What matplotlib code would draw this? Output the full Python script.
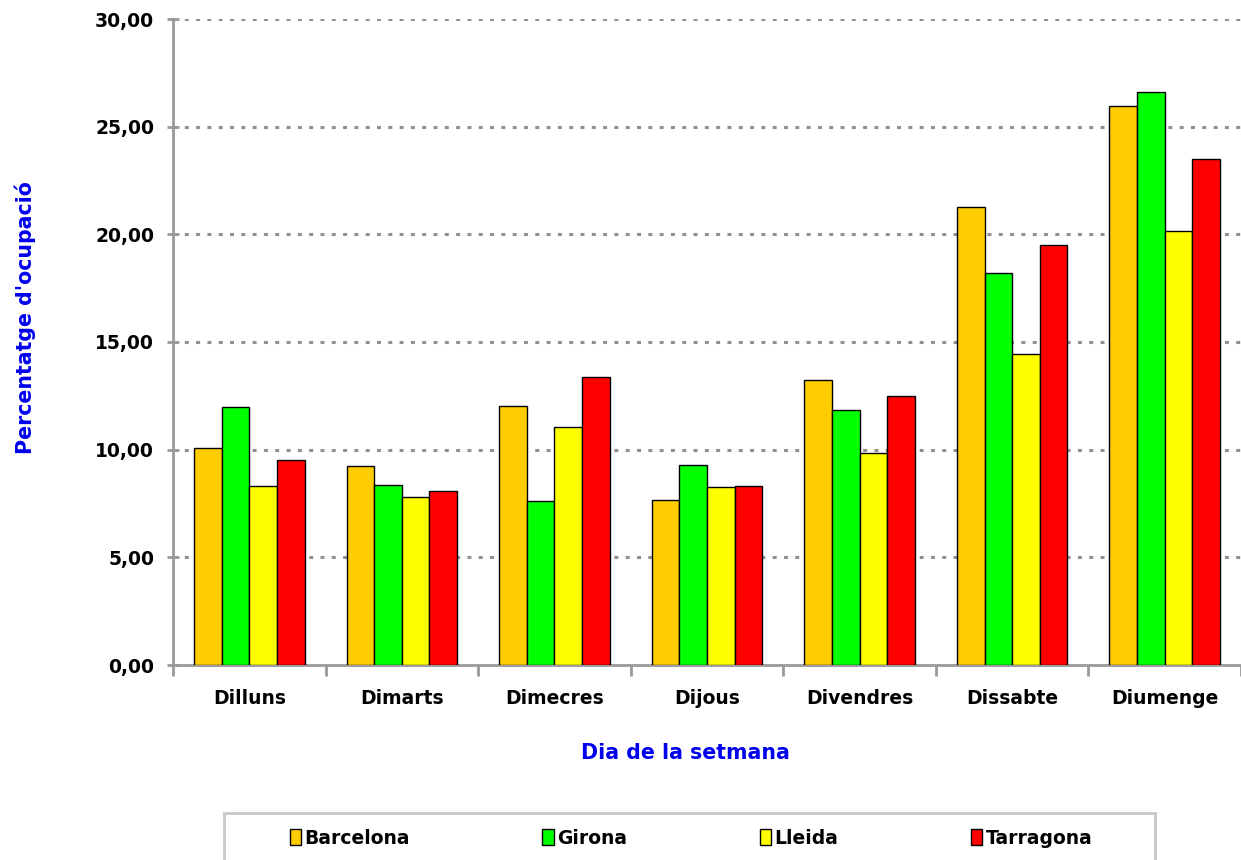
import matplotlib
matplotlib.use("Agg")
from matplotlib import pyplot as plt
from matplotlib.patches import Rectangle
from matplotlib.ticker import FuncFormatter
import numpy as np

dies = ["Dilluns", "Dimarts", "Dimecres", "Dijous", "Divendres", "Dissabte", "Diumenge"]
barcelona = [10.09, 9.23, 12.02, 7.65, 13.24, 21.26, 25.96]
girona = [11.97, 8.38, 7.60, 9.27, 11.83, 18.19, 26.61]
lleida = [8.31, 7.79, 11.04, 8.25, 9.86, 14.43, 20.16]
tarragona = [9.51, 8.07, 13.38, 8.30, 12.51, 19.49, 23.49]

noms = ["Barcelona", "Girona", "Lleida", "Tarragona"]
colors = ["#FFCC00", "#00FF00", "#FFFF00", "#FF0000"]

plt.rcParams['font.family'] = ['DejaVu Sans']
plt.rcParams['font.weight'] = 'bold'

fig = plt.figure(figsize=(12.41, 8.6), dpi=100)
ax = fig.add_axes([173 / 1241, 1 - 665 / 860, 1 - 173 / 1241, (665 - 19) / 860])

x = np.arange(len(dies))
w = 0.181
series = [barcelona, girona, lleida, tarragona]
for i, s in enumerate(series):
    ax.bar(x + (i - 1.5) * w, s, width=w, color=colors[i], edgecolor="black",
           linewidth=1, label=noms[i], zorder=3)

ax.set_xlim(-0.5, 6.5)
ax.set_ylim(0, 30)
ax.set_yticks(range(0, 31, 5))
ax.yaxis.set_major_formatter(FuncFormatter(lambda v, p: "{:.2f}".format(v).replace(".", ",")))

# linies de graella puntejades
for v in range(5, 31, 5):
    ax.axhline(v, color="#909090", linewidth=2.2, dashes=(1.3, 2.4), zorder=1)

ax.set_xticks(x)
ax.set_xticklabels(dies)
ax.set_xticks(np.arange(-0.5, 7, 1), minor=True)
ax.tick_params(axis="x", which="major", length=0, pad=17, labelsize=13.5)
ax.tick_params(axis="x", which="minor", length=8, width=2, color="#999999", direction="out")
ax.tick_params(axis="y", length=9, width=2, color="#999999", direction="inout", pad=9, labelsize=13.5)

for sp in ["top", "right"]:
    ax.spines[sp].set_visible(False)
for sp in ["left", "bottom"]:
    ax.spines[sp].set_color("#999999")
    ax.spines[sp].set_linewidth(2)

fig.text(25 / 1241, 1 - 318 / 860, "Percentatge d'ocupació", rotation=90, color="#0000EE",
         fontsize=14.8, fontweight="bold", ha="center", va="center")
fig.text(685 / 1241, 1 - 753 / 860, "Dia de la setmana", color="#0000EE",
         fontsize=14.8, fontweight="bold", ha="center", va="center")

# caixa de la llegenda (tallada a baix)
fig.patches.append(Rectangle((224 / 1241, -0.05), (1155 - 224) / 1241, 0.05 + 1 - 813 / 860,
                             transform=fig.transFigure, facecolor="white",
                             edgecolor="#C8C8C8", linewidth=2))
handles, labels = ax.get_legend_handles_labels()
fig.legend(handles, labels, ncol=4, loc="center", bbox_to_anchor=(691 / 1241, 1 - 838 / 860),
           frameon=False, fontsize=13.5, handlelength=0.6, handleheight=0.9,
           handletextpad=0.2, columnspacing=7.05)

plt.savefig("out.png", dpi=100)
